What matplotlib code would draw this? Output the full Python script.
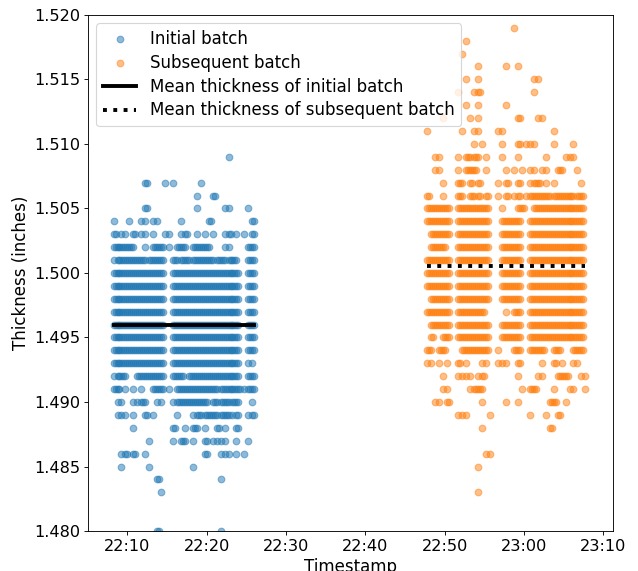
"""Thickness of the two batches over time, with each batch's mean."""
import matplotlib
matplotlib.use("Agg")
import matplotlib.pyplot as plt
import matplotlib.dates as mdates
from matplotlib.ticker import FormatStrFormatter, MultipleLocator
import pandas as pd

# Readings, one character per 30-second slot
# ('.' nothing, 'o' one reading, 'O' two readings; '|' only groups slots by five).
slot_seconds = 30

init_start = "2021-03-01 22:08:15"
init_levels = [1.509, 1.507, 1.506, 1.505, 1.504, 1.503, 1.502, 1.501, 1.500,
               1.499, 1.498, 1.497, 1.496, 1.495, 1.494, 1.493, 1.492, 1.491,
               1.490, 1.489, 1.488, 1.487, 1.486, 1.485, 1.484, 1.483, 1.480]
init_rows = [
    ".....|.....|.....|.....|.....|....o|.....|.",
    ".....|...O.|...o.|o....|..o..|.....|.....|.",
    ".....|.....|.....|.....|.o...|O....|.....|.",
    ".....|...O.|.....|.....|.o...|...oo|....o|.",
    "o...o|..oo.|oo...|..o..|....O|.....|.....|O",
    "O.oo.|O.oo.|o..oo|..oO.|.o.o.|o..oO|.o.o.|O",
    "OOOOO|o..o.|OOO.o|.OOo.|OOOOo|...oo|....O|O",
    "oOOOO|OOOoO|OOO..|OoOOo|OOOOO|oOOoO|Oo..O|O",
    "OOOOO|OOOOO|OOO..|OOOOO|OOOOO|OOOOO|OO..O|O",
    "OOOOO|OOOOO|OOO..|OOOOO|OOOOO|OOOOO|OO..O|O",
    "OOOOO|OOOOO|OOO..|OOOOO|OOOOO|OOOOO|OO..O|O",
    "OOOOO|OOOOO|OOO..|OOOOO|OOOOO|OOOOO|OO..O|O",
    "OOOOO|OOOOO|OOO..|OOOOO|OOOOO|OOOOO|OO..O|O",
    "OOOOO|OOOOO|OOO..|OOOOO|OOOOO|OOOOO|OO..O|O",
    "OOOOO|OOOOO|OOO..|OOOOO|OOOOO|OOOOO|OO..O|O",
    "OOOOO|OOOOO|OOO..|OOOOO|OOOOO|OOOOO|OO..o|o",
    "oOOo.|.OOOO|OOO..|OOO.O|OOOOO|OOOOO|OO..O|O",
    "OO.o.|o.o..|OOO.o|.OOOO|OOOOO|OoOOO|OOooO|O",
    ".oo..|ooOo.|.oo..|oOOOO|OOOO.|OoOOo|OO...|o",
    ".ooo.|o..O.|o....|.o...|oOoOO|OoOOo|oO..o|O",
    ".....|o....|.....|O..o.|Oo.o.|.O.o.|.O...|.",
    ".....|....o|.....|o.Oo.|o..O.|oooo.|.o..o|.",
    "..oO.|O..o.|.....|.....|...O.|..ooo|.o.o.|.",
    "..o..|....o|.....|.....|o....|.....|.....|.",
    ".....|.....|.O...|.....|.....|..o..|.....|.",
    ".....|.....|..o..|.....|.....|.....|.....|.",
    ".....|.....|.O...|.....|.....|..o..|.....|.",
]

sub_start = "2021-03-01 22:47:45"
sub_levels = [1.519, 1.518, 1.517, 1.516, 1.515, 1.514, 1.513, 1.512, 1.511,
              1.510, 1.509, 1.508, 1.507, 1.506, 1.505, 1.504, 1.503, 1.502,
              1.501, 1.500, 1.499, 1.498, 1.497, 1.496, 1.495, 1.494, 1.493,
              1.492, 1.491, 1.490, 1.489, 1.488, 1.486, 1.485, 1.483]
sub_rows = [
    ".....|.....|.....|.....|..o..|.....|.....|.....|.",
    ".....|.....|o....|.....|.....|.....|.....|.....|.",
    ".....|....o|.....|.....|.....|.....|.....|.....|.",
    ".....|.....|...o.|.....|o..o.|.....|.....|.....|.",
    ".....|.....|o..o.|.....|.....|..oo.|.....|.....|.",
    ".....|...o.|..oO.|.....|.....|..o..|.....|.....|.",
    ".....|.....|o..o.|.....|o....|.....|.....|.....|.",
    "....o|.....|.o.o.|.....|...O.|...oo|.....|.....|.",
    "o....|....o|..oo.|...oo|.....|.....|..o..|.....|.",
    ".....|.....|..o.o|....o|...O.|ooo..|..o..|..o..|.",
    "..oo.|...o.|OoOo.|o...o|...o.|.....|o....|ooo..|.",
    "..oo.|...o.|OOO..|o....|o.o.o|.oo.o|o..Oo|...o.|.",
    "....o|...Oo|.O.O.|...o.|O..O.|.oOO.|o.o..|....o|.",
    "O...o|...Oo|.OoO.|O..o.|O.oO.|oOOOO|OoOOO|OOoOO|.",
    "OOOOO|O..OO|OOOOO|O...o|...OO|..OOO|OOOOO|OOOOO|.",
    "OOOOO|O..OO|OOOOO|O...O|OOOO.|.OOOO|OOOOO|OOOOO|.",
    ".OOOO|O..OO|OOOOO|O...O|OOOO.|.OOOO|OOOOO|OOOOO|.",
    ".OOOO|...OO|OOOOO|O...O|OOOO.|.OOOO|OOOOO|OOOOO|.",
    "OOOOO|O..OO|OOOOO|O...O|OOOO.|.OOOO|OOOOO|OOOOO|.",
    "OOOOO|O..OO|OOOOO|O...O|OOOO.|.OOOO|OOOOO|OOOOO|.",
    "OOOOO|O..OO|OOOOO|O...O|OOOO.|.OOOO|OOOOO|OOOOO|.",
    ".OOOO|O..OO|OOOOO|O...O|OOOO.|.OOOO|OOOOO|OOOOO|.",
    "OOOOO|O..OO|OOOOO|.....|o.OO.|.OOOO|OOOOO|OOOOO|.",
    ".OOOO|O..OO|OOOOO|O...O|OOOO.|.OOOO|OOOOO|OOOOO|.",
    ".O..O|O..OO|OOOOO|O...O|OOOO.|.OOOO|OOOOO|OOOOO|.",
    "Oo.OO|....O|OOOOO|O..o.|..OO.|.OOOO|..OO.|..OOO|.",
    "oo.o.|o..O.|o...o|o..oo|o..O.|....o|..O.o|..oo.|.",
    "....o|...oo|oo.oO|.....|...o.|...oo|...OO|O...o|o",
    "....o|o....|.oOOo|.....|....o|.OO..|..o..|.oo..|o",
    "..oo.|O....|....o|.....|o..o.|.....|.OO..|o....|.",
    ".....|...oo|o....|.o...|.....|.o...|o..O.|.....|.",
    ".....|.....|....o|.....|.....|.....|.O...|.....|.",
    ".....|.....|.....|oo...|.....|.....|.....|.....|.",
    ".....|.....|...o.|.....|.....|.....|.....|.....|.",
    ".....|.....|...o.|.....|.....|.....|.....|.....|.",
]

init_mean = 1.4960
sub_mean = 1.5005


def expand(start, levels, rows):
    """Turn the slot strings into (timestamp, thickness) rows; readings in one slot share it evenly."""
    t0 = pd.Timestamp(start)
    recs = []
    for level, row in zip(levels, rows):
        for i, c in enumerate(row.replace("|", "")):
            n = {"o": 1, "O": 2}.get(c, 0)
            for k in range(n):
                t = t0 + pd.Timedelta(seconds=slot_seconds * (i + k / n))
                recs.append((t, level))
    return pd.DataFrame(recs, columns=["timestamp", "thickness"])


init = expand(init_start, init_levels, init_rows)
sub = expand(sub_start, sub_levels, sub_rows)

plt.rcParams["font.size"] = 15
fig = plt.figure(figsize=(638 / 80, 571 / 80), dpi=80)
ax = fig.add_axes([0.138, 0.070, 0.823, 0.904])

ax.scatter(init.timestamp, init.thickness, alpha=0.5, label="Initial batch")
ax.scatter(sub.timestamp, sub.thickness, alpha=0.5, label="Subsequent batch")
ax.plot([init.timestamp.min(), init.timestamp.max()], [init_mean] * 2,
        color="black", lw=3.5, label="Mean thickness of initial batch")
ax.plot([sub.timestamp.min(), sub.timestamp.max()], [sub_mean] * 2,
        color="black", lw=3.5, ls=":", label="Mean thickness of subsequent batch")

ax.set_xlim(pd.Timestamp("2021-03-01 22:05:02"), pd.Timestamp("2021-03-01 23:11:15"))
ax.set_ylim(1.480, 1.520)
ax.xaxis.set_major_locator(mdates.MinuteLocator(byminute=range(0, 60, 10)))
ax.xaxis.set_major_formatter(mdates.DateFormatter("%H:%M"))
ax.yaxis.set_major_locator(MultipleLocator(0.005))
ax.yaxis.set_major_formatter(FormatStrFormatter("%.3f"))
ax.tick_params(labelsize=14.5)
ax.set_xlabel("Timestamp")
ax.set_ylabel("Thickness (inches)")
ax.legend(loc="upper left", labelspacing=0.35)

fig.savefig("out.png", dpi=80)
